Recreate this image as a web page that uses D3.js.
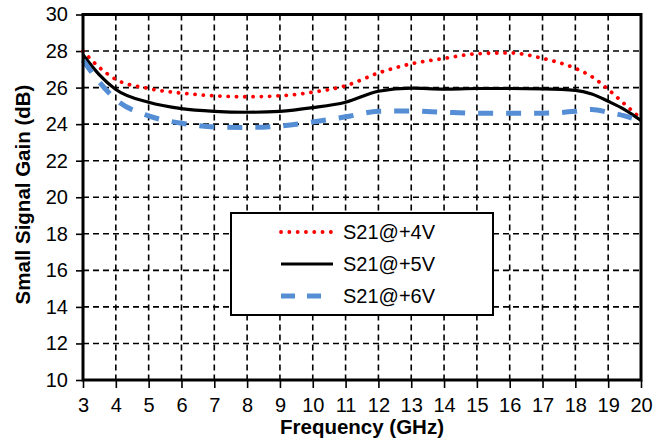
<!DOCTYPE html>
<html>
<head>
<meta charset="utf-8">
<script src="https://cdn.jsdelivr.net/npm/d3@7"></script>
<style>
  body { margin: 0; background: #fff; }
  text { font-family: Arial, "Liberation Sans", sans-serif; fill: #000; }
</style>
</head>
<body>
<div id="chart"></div>
<script>
// frequency points (GHz)
const freq = [3, 3.5, 4, 5, 6, 7, 8, 9, 10, 11, 12, 13, 14, 15, 16, 17, 18, 18.5, 19, 19.5, 20];
// small signal gain (dB)
const s21_4v = [28.0, 27.1, 26.45, 25.95, 25.7, 25.55, 25.5, 25.55, 25.75, 26.1, 26.8, 27.3, 27.6, 27.85, 27.9, 27.6, 27.05, 26.6, 25.9, 25.1, 24.3];
const s21_5v = [27.8, 26.7, 25.9, 25.2, 24.85, 24.7, 24.65, 24.7, 24.9, 25.2, 25.8, 25.97, 25.92, 25.95, 25.95, 25.93, 25.85, 25.65, 25.25, 24.8, 24.2];
const s21_6v = [27.5, 26.3, 25.35, 24.45, 24.05, 23.85, 23.82, 23.9, 24.12, 24.4, 24.7, 24.72, 24.65, 24.6, 24.6, 24.6, 24.7, 24.8, 24.65, 24.45, 24.15];
const seriesNames = ["S21@+4V", "S21@+5V", "S21@+6V"];
const xTicks = d3.range(3, 21, 1);
const yTicks = d3.range(10, 31, 2);

var margin = { top: 14.5, right: 29, bottom: 68, left: 83 },
  width = 670 - margin.left - margin.right,
  height = 448 - margin.top - margin.bottom;

var svg = d3.select("#chart")
  .append("svg")
  .attr("width", 670)
  .attr("height", 448)
  .append("g")
  .attr("transform", "translate(" + margin.left + "," + margin.top + ")");

var x = d3.scaleLinear().domain([3, 20]).range([0, width]);
var y = d3.scaleLinear().domain([10, 30]).range([height, 0]);

// dashed grid
svg.append("g")
  .selectAll("line")
  .data(xTicks.slice(1, -1))
  .enter().append("line")
  .attr("x1", d => x(d)).attr("x2", d => x(d))
  .attr("y1", 0).attr("y2", height)
  .attr("stroke", "#000").attr("stroke-width", 1.6)
  .attr("stroke-dasharray", "6,4");
svg.append("g")
  .selectAll("line")
  .data(yTicks.slice(1, -1))
  .enter().append("line")
  .attr("y1", d => y(d)).attr("y2", d => y(d))
  .attr("x1", 0).attr("x2", width)
  .attr("stroke", "#000").attr("stroke-width", 1.6)
  .attr("stroke-dasharray", "6,4");

// axes
var xAxis = svg.append("g")
  .attr("transform", "translate(0," + height + ")")
  .call(d3.axisBottom(x).tickValues(xTicks).tickFormat(d3.format("d")).tickSize(8).tickPadding(10));
var yAxis = svg.append("g")
  .call(d3.axisLeft(y).tickValues(yTicks).tickFormat(d3.format("d")).tickSize(7).tickPadding(8));
[xAxis, yAxis].forEach(a => {
  a.select(".domain").remove();
  a.selectAll(".tick line").attr("stroke", "#000").attr("stroke-width", 1.6);
  a.selectAll(".tick text").style("font-size", "20px").style("font-family", "Arial, 'Liberation Sans', sans-serif");
});

// lines
var line = d3.line()
  .x(d => x(d[0]))
  .y(d => y(d[1]))
  .curve(d3.curveMonotoneX);

var styles = [
  { color: "#ff0000", width: 3.8, dash: "0.1,8.2", cap: "round" },
  { color: "#000000", width: 3.2, dash: null, cap: "butt" },
  { color: "#558ed5", width: 5, dash: "15,13", cap: "butt" }
];
[s21_4v, s21_5v, s21_6v].forEach((vals, i) => {
  svg.append("path")
    .datum(freq.map((f, j) => [f, vals[j]]))
    .attr("fill", "none")
    .attr("stroke", styles[i].color)
    .attr("stroke-width", styles[i].width)
    .attr("stroke-linecap", styles[i].cap)
    .attr("stroke-dasharray", styles[i].dash)
    .attr("d", line);
});

// plot frame
svg.append("rect")
  .attr("width", width).attr("height", height)
  .attr("fill", "none").attr("stroke", "#000").attr("stroke-width", 3);

// legend
var legend = svg.append("g").attr("transform", "translate(148,198.5)");
legend.append("rect")
  .attr("width", 262).attr("height", 102)
  .attr("fill", "#fff").attr("stroke", "#000").attr("stroke-width", 2);
seriesNames.forEach((name, i) => {
  var ly = 19 + i * 32;
  legend.append("line")
    .attr("x1", 50).attr("x2", i === 2 ? 97 : 102)
    .attr("y1", ly).attr("y2", ly)
    .attr("stroke", styles[i].color)
    .attr("stroke-width", styles[i].width)
    .attr("stroke-linecap", styles[i].cap)
    .attr("stroke-dasharray", i === 2 ? "14,12" : styles[i].dash);
  legend.append("text")
    .attr("x", 112).attr("y", ly + 7)
    .style("font-size", "20px")
    .text(name);
});

// axis titles
svg.append("text")
  .attr("x", width / 2).attr("y", height + 54)
  .attr("text-anchor", "middle")
  .style("font-size", "20.5px").style("font-weight", "bold")
  .text("Frequency (GHz)");
svg.append("text")
  .attr("transform", "rotate(-90)")
  .attr("x", -180).attr("y", -53)
  .attr("text-anchor", "middle")
  .style("font-size", "20.5px").style("font-weight", "bold")
  .text("Small Signal Gain (dB)");
</script>
</body>
</html>
